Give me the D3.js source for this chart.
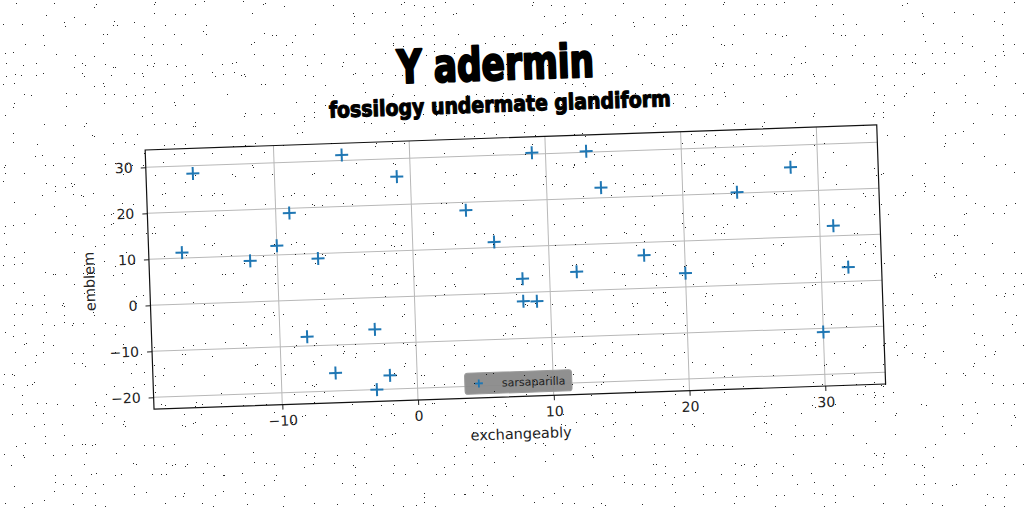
<!DOCTYPE html>
<html>
<head>
<meta charset="utf-8">
<script src="https://cdn.jsdelivr.net/npm/d3@7"></script>
<style>
  html, body { margin: 0; padding: 0; background: #fff; }
  svg { display: block; }
</style>
</head>
<body>
<div id="svg-container"></div>
<script>
// scatter values
const xValues = [-17, -16, -12, -10, -9, -8, -7, -6, -5, -3, -3, -2, -1, 4, 6, 8, 8, 9, 9, 12, 13, 14, 17, 20, 24, 28, 30, 31, 32]
const yValues = [11.2, 28.3, 8.9, 12.0, 19.0, -8.0, 8.9, -16.1, 31.2, -6.9, -20.0, -17.0, 26.1, 18.3, 11.2, 3.0, -1.9, 30.3, -2.0, 4.1, 30.2, 22.2, 7.2, 3.0, 20.2, 25.2, -10.8, 12.2, 3.1]
const xTicks = [-10, 0, 10, 20, 30]
const yTicks = [-20, -10, 0, 10, 20, 30]
const seriesName = "sarsaparilla"
const titleText = "Y adermin"
const subtitleText = "fossilogy undermate glandiform"
const xLabel = "exchangeably"
const yLabel = "emblem"

const width = 1024
const height = 512
const plot = { left: 149, right: 881, top: 137.5, bottom: 396.7 }
const blue = "#1f77b4"
const heavyFont = "Impact, 'DejaVu Sans Condensed', 'Liberation Sans Narrow', sans-serif"
const fmt = (v) => (v < 0 ? "\u2212" + Math.abs(v) : "" + v)

const points = xValues.map((x, i) => ({ x: x, y: yValues[i] }))

svg = d3.select("#svg-container")
    .append("svg")
    .attr("width", width)
    .attr("height", height)

// speckle filter for the grainy background
const defs = svg.append("defs")
const filt = defs.append("filter")
    .attr("id", "speckle")
    .attr("x", 0).attr("y", 0).attr("width", "100%").attr("height", "100%")
    .attr("filterUnits", "userSpaceOnUse")
filt.append("feTurbulence")
    .attr("type", "fractalNoise")
    .attr("baseFrequency", 0.9)
    .attr("numOctaves", 1)
    .attr("seed", 3)
    .attr("result", "noise")
filt.append("feColorMatrix")
    .attr("type", "matrix")
    .attr("values", "0 0 0 0 0  0 0 0 0 0  0 0 0 0 0  9 0 0 0 -6.3")
const ct = filt.append("feComponentTransfer")
ct.append("feFuncA").attr("type", "discrete").attr("tableValues", "0 0.85")

// margins like matplotlib: 5% either side of the data
function padded(ext) {
    const m = (ext[1] - ext[0]) * 0.05
    return [ext[0] - m, ext[1] + m]
}

const xScale = d3.scaleLinear()
    .domain(padded(d3.extent(xValues)))
    .range([plot.left, plot.right])
const yScale = d3.scaleLinear()
    .domain(padded(d3.extent(yValues)))
    .range([plot.bottom, plot.top])

// whole figure is tilted a little
const fig = svg.append("g")
    .attr("transform", "rotate(-1.96, 512, 256)")

fig.append("text")
    .attr("x", 502)
    .attr("y", 79.5)
    .attr("text-anchor", "middle")
    .attr("font-family", heavyFont)
    .attr("font-weight", "bold")
    .attr("font-size", 46)
    .attr("textLength", 197)
    .attr("lengthAdjust", "spacingAndGlyphs")
    .attr("fill", "#000")
    .attr("stroke", "#000")
    .attr("stroke-width", 2.2)
    .attr("stroke-linejoin", "round")
    .text(titleText)

fig.append("text")
    .attr("x", 505)
    .attr("y", 111.5)
    .attr("text-anchor", "middle")
    .attr("font-family", heavyFont)
    .attr("font-weight", "bold")
    .attr("font-size", 22)
    .attr("textLength", 342)
    .attr("lengthAdjust", "spacingAndGlyphs")
    .attr("fill", "#000")
    .attr("stroke", "#000")
    .attr("stroke-width", 1.1)
    .attr("stroke-linejoin", "round")
    .text(subtitleText)

// grid
fig.append("g")
    .selectAll("line")
    .data(xTicks)
    .enter()
    .append("line")
    .attr("x1", (d) => xScale(d)).attr("x2", (d) => xScale(d))
    .attr("y1", plot.top).attr("y2", plot.bottom)
    .attr("stroke", "#b8b8b8")
    .attr("stroke-width", 1)

fig.append("g")
    .selectAll("line")
    .data(yTicks)
    .enter()
    .append("line")
    .attr("x1", plot.left).attr("x2", plot.right)
    .attr("y1", (d) => yScale(d)).attr("y2", (d) => yScale(d))
    .attr("stroke", "#b8b8b8")
    .attr("stroke-width", 1)

// axes
fig.append("g")
    .attr("transform", "translate(0," + plot.bottom + ")")
    .call(d3.axisBottom(xScale).tickValues(xTicks).tickFormat(fmt).tickSize(5).tickPadding(6).tickSizeOuter(0))
fig.append("g")
    .attr("transform", "translate(" + plot.left + ",0)")
    .call(d3.axisLeft(yScale).tickValues(yTicks).tickFormat(fmt).tickSize(5).tickPadding(8).tickSizeOuter(0))

fig.selectAll(".domain").remove()
fig.selectAll(".tick line").attr("stroke", "#222").attr("stroke-width", 1)
fig.selectAll(".tick text")
    .attr("font-family", "'DejaVu Sans', sans-serif")
    .attr("font-size", 14)
    .attr("fill", "#222")

// frame
fig.append("rect")
    .attr("x", plot.left)
    .attr("y", plot.top)
    .attr("width", plot.right - plot.left)
    .attr("height", plot.bottom - plot.top)
    .attr("fill", "none")
    .attr("stroke", "#111")
    .attr("stroke-width", 1.2)

fig.append("text")
    .attr("x", (plot.left + plot.right) / 2)
    .attr("y", 439)
    .attr("text-anchor", "middle")
    .attr("font-family", "'DejaVu Sans', sans-serif")
    .attr("font-size", 14.5)
    .attr("fill", "#222")
    .text(xLabel)

fig.append("text")
    .attr("transform", "translate(94," + (plot.top + plot.bottom) / 2 + ") rotate(-90)")
    .attr("text-anchor", "middle")
    .attr("font-family", "'DejaVu Sans', sans-serif")
    .attr("font-size", 14.5)
    .attr("fill", "#222")
    .text(yLabel)

// markers
const arm = 6.5
const marks = fig.append("g")
    .selectAll("g")
    .data(points)
    .enter()
    .append("g")
    .attr("transform", (d) => "translate(" + xScale(d.x) + "," + yScale(d.y) + ")")
marks.append("line")
    .attr("x1", -arm).attr("x2", arm).attr("y1", 0).attr("y2", 0)
    .attr("stroke", blue).attr("stroke-width", 2)
marks.append("line")
    .attr("x1", 0).attr("x2", 0).attr("y1", -arm).attr("y2", arm)
    .attr("stroke", blue).attr("stroke-width", 2)

// legend, lower centre
const legW = 107, legH = 21
const legX = (plot.left + plot.right) / 2 - legW / 2 - 1
const legY = plot.bottom - 4 - legH
const legend = fig.append("g")
    .attr("transform", "translate(" + legX + "," + legY + ")")
legend.append("rect")
    .attr("width", legW)
    .attr("height", legH)
    .attr("rx", 3)
    .attr("fill", "#8a8a8a")
    .attr("fill-opacity", 0.95)
    .attr("stroke", "#9a9a9a")
legend.append("line")
    .attr("x1", 10).attr("x2", 18).attr("y1", legH / 2).attr("y2", legH / 2)
    .attr("stroke", blue).attr("stroke-width", 1.8)
legend.append("line")
    .attr("x1", 14).attr("x2", 14).attr("y1", legH / 2 - 4).attr("y2", legH / 2 + 4)
    .attr("stroke", blue).attr("stroke-width", 1.8)
legend.append("text")
    .attr("x", 37)
    .attr("y", legH / 2 + 4)
    .attr("font-family", "'DejaVu Sans', sans-serif")
    .attr("font-size", 11)
    .attr("fill", "#222")
    .text(seriesName)

// grain on top of everything
svg.append("rect")
    .attr("width", width)
    .attr("height", height)
    .attr("fill", "#000")
    .attr("filter", "url(#speckle)")
    .attr("pointer-events", "none")
</script>
</body>
</html>
